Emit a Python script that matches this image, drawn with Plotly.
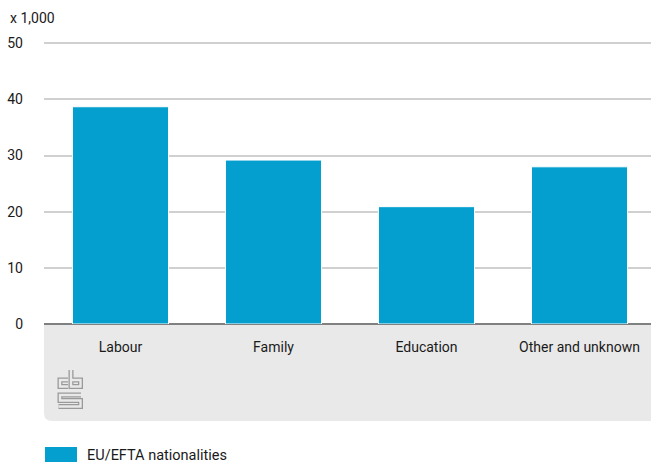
import plotly.graph_objects as go

categories = ["Labour", "Family", "Education", "Other and unknown"]
values = [38.7, 29.2, 20.9, 28.0]
series_name = "EU/EFTA nationalities"
y_ticks = [0, 10, 20, 30, 40, 50]
unit_label = "x 1,000"

W, H = 651, 464
L, R, T, B = 44, 0, 42, 140
PW, PH = W - L - R, H - T - B
cat_px = 153.0
x_max = -0.5 + PW / cat_px
y_max = 50 * PH / (H - B - 43.3)

BLUE = "#059fcf"
GREY_BG = "#e9e9e9"
FONT = "Roboto"
TXT = "#1a1a1a"


def px(X, Y):
    return (X - L) / PW, (H - B - Y) / PH


fig = go.Figure()
fig.add_trace(go.Bar(
    x=categories, y=values, name=series_name,
    marker=dict(color=BLUE, line=dict(color="white", width=1)),
    showlegend=False, hoverinfo="skip",
))

shapes = []
x0, yt = px(44, 324.5)
x1, yb = px(651, 421)
rx = 8 / PW
ry = 8 / PH
shapes.append(dict(
    type="path", xref="paper", yref="paper", layer="below",
    path=f"M {x0},{yt} L {x1},{yt} L {x1},{yb} L {x0+rx},{yb} Q {x0},{yb} {x0},{yb+ry} Z",
    fillcolor=GREY_BG, line=dict(width=0),
))

logo_paths = [
    [(68, 380), (60, 380), (60, 386.5), (68, 386.5)],
    [(71, 370), (71, 386.5), (80.5, 386.5), (80.5, 380), (71, 380)],
    [(81, 395), (60, 395), (60, 400.5), (80.5, 400.5), (80.5, 406.5), (58.5, 406.5)],
]
for color, width in [("#9a9a9a", 5), (GREY_BG, 2.4)]:
    for pts in logo_paths:
        d = "M " + " L ".join(f"{px(a, b)[0]},{px(a, b)[1]}" for a, b in pts)
        shapes.append(dict(type="path", xref="paper", yref="paper", path=d,
                           line=dict(color=color, width=width)))

lx0, ly0 = px(45, 447)
lx1, ly1 = px(77, 462)
shapes.append(dict(type="rect", xref="paper", yref="paper",
                   x0=lx0, x1=lx1, y0=ly1, y1=ly0,
                   fillcolor=BLUE, line=dict(width=0)))

annotations = []
ux, uy = px(8, 18)
annotations.append(dict(xref="paper", yref="paper", x=ux, y=uy, text=unit_label,
                        showarrow=False, xanchor="left", yanchor="middle",
                        font=dict(family=FONT, size=14, color=TXT)))
tx, ty = px(85, 455)
annotations.append(dict(xref="paper", yref="paper", x=tx, y=ty, text=series_name,
                        showarrow=False, xanchor="left", yanchor="middle",
                        font=dict(family=FONT, size=14.5, color=TXT)))

fig.update_layout(
    width=W, height=H,
    margin=dict(l=L, r=R, t=T, b=B, autoexpand=False),
    plot_bgcolor="white", paper_bgcolor="white",
    bargap=0.372,
    font=dict(family=FONT, size=14, color=TXT),
    shapes=shapes, annotations=annotations,
    showlegend=False,
)
fig.update_xaxes(
    range=[-0.5, x_max], showgrid=False, zeroline=False,
    showline=False, ticks="", ticklabelstandoff=13,
    tickfont=dict(family=FONT, size=14, color=TXT),
)
fig.update_yaxes(
    range=[0, y_max], tickvals=y_ticks, showgrid=True,
    gridcolor="#d0d0d0", gridwidth=1.5,
    zeroline=True, zerolinecolor="#808080", zerolinewidth=2,
    showline=False, ticks="", ticklabelstandoff=20,
    tickfont=dict(family=FONT, size=14, color=TXT),
)

fig.write_html(
    "out.html",
    config={"displayModeBar": False},
    post_script="document.body.style.margin='0';document.body.style.overflow='hidden';",
)
